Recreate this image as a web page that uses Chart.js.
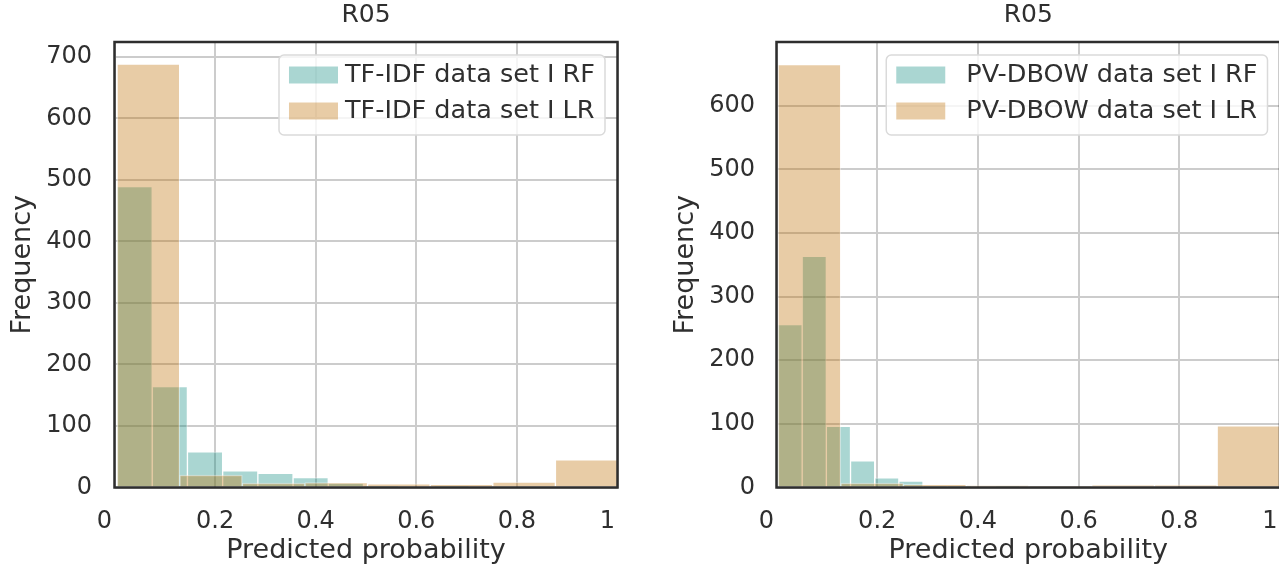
<!DOCTYPE html>
<html>
<head>
<meta charset="utf-8">
<script src="https://cdn.jsdelivr.net/npm/chart.js@4.4.1/dist/chart.umd.min.js"></script>
<style>
  html, body { margin: 0; padding: 0; background: #fff; overflow: hidden; }
  .box { position: absolute; top: 0; height: 570px; }
  #leftBox { left: 0; width: 640px; }
  #rightBox { left: 640px; width: 660px; }
</style>
</head>
<body>
<div class="box" id="leftBox"><canvas id="histTfidf"></canvas></div>
<div class="box" id="rightBox"><canvas id="histDbow"></canvas></div>
<script>
// bin centres (predicted probability) and counts
const tfidfRfBins = [0.040, 0.110, 0.180, 0.250, 0.320, 0.390, 0.460, 0.530, 0.600, 0.670];
const tfidfRfCounts = [489, 164, 58, 27, 23, 16, 7, 1, 0, 1];
const tfidfLrBins = [0.0673, 0.1918, 0.3163, 0.4408, 0.5653, 0.6898, 0.8143, 0.9388];
const tfidfLrCounts = [688, 20, 7, 8, 6, 5, 9, 45];

const dbowRfBins = [0.027, 0.075, 0.123, 0.171, 0.219, 0.267, 0.315, 0.363, 0.411, 0.459];
const dbowRfCounts = [256, 363, 96, 42, 15, 10, 2, 1, 0, 1];
const dbowLrBins = [0.0653, 0.1899, 0.3145, 0.4391, 0.5637, 0.6883, 0.8129, 0.9375];
const dbowLrCounts = [664, 7, 5, 3, 1, 4, 4, 97];

const xTickLabels = ['0', '0.2', '0.4', '0.6', '0.8', '1'];
const yTickLabelsTfidf = ['0', '100', '200', '300', '400', '500', '600', '700'];
const yTickLabelsDbow = ['0', '100', '200', '300', '400', '500', '600'];

const RF_COLOR = 'rgba(12,138,126,0.35)';
const LR_COLOR = 'rgba(189,109,1,0.35)';
const TEXT = '#2f2f2f';
const FONT = 'DejaVu Sans';

// end labels "0" and "1" sit a bit left of their grid line, like in the original
const shiftEndLabels = {
    id: 'shiftEndLabels',
    beforeDraw(chart) {
        const items = chart.scales.x.getLabelItems(chart.chartArea);
        [items[0], items[items.length - 1]].forEach(it => {
            if (it && !it.shifted) {
                it.options.translation[0] -= 10;
                it.shifted = true;
            }
        });
    }
};

// frame round the plot and a legend box inside the upper right corner
const frameLegend = {
    id: 'frameLegend',
    afterDatasetsDraw(chart, args, opts) {
        const ctx = chart.ctx;
        const a = chart.chartArea;
        ctx.save();
        ctx.strokeStyle = '#2e2e2e';
        ctx.lineWidth = 2.5;
        ctx.strokeRect(a.left, a.top, a.right - a.left, a.bottom - a.top);

        ctx.font = '25.5px "' + FONT + '"';
        const items = [chart.data.datasets[1], chart.data.datasets[0]];
        const textW = Math.max(...items.map(d => ctx.measureText(d.label).width));
        const w = 10 + 49 + opts.gap + textW + 10;
        const h = 80;
        const x = a.right - 12.5 - w;
        const y = a.top + 13;
        ctx.beginPath();
        if (ctx.roundRect) ctx.roundRect(x, y, w, h, 5); else ctx.rect(x, y, w, h);
        ctx.fillStyle = 'rgba(255,255,255,0.8)';
        ctx.fill();
        ctx.strokeStyle = '#dadada';
        ctx.lineWidth = 1.5;
        ctx.stroke();
        items.forEach((d, k) => {
            const cy = y + 20 + k * 36;
            ctx.fillStyle = d.backgroundColor;
            ctx.fillRect(x + 10, cy - 8.5, 49, 17);
            ctx.fillStyle = TEXT;
            ctx.textBaseline = 'middle';
            ctx.textAlign = 'left';
            ctx.fillText(d.label, x + 10 + 49 + opts.gap, cy);
        });
        ctx.restore();
    }
};

function makeHist(canvasId, cfg) {
    const ctx = document.getElementById(canvasId).getContext('2d');
    return new Chart(ctx, {
        type: 'bar',
        data: {
            datasets: [
                {
                    label: cfg.lrLabel,
                    data: cfg.lrBins.map((b, i) => ({x: b, y: cfg.lrCounts[i]})),
                    xAxisID: 'x2',
                    backgroundColor: LR_COLOR,
                    borderColor: 'rgba(255,255,255,0.4)',
                    borderWidth: 1,
                    barPercentage: 1,
                    categoryPercentage: 1,
                    grouped: false,
                    order: 0
                },
                {
                    label: cfg.rfLabel,
                    data: cfg.rfBins.map((b, i) => ({x: b, y: cfg.rfCounts[i]})),
                    xAxisID: 'x',
                    backgroundColor: RF_COLOR,
                    borderColor: 'rgba(255,255,255,0.4)',
                    borderWidth: 1,
                    barPercentage: 1,
                    categoryPercentage: 1,
                    grouped: false,
                    order: 1
                }
            ]
        },
        options: {
            responsive: true,
            maintainAspectRatio: false,
            animation: false,
            layout: {padding: {left: cfg.padLeft, right: cfg.padRight, top: 0, bottom: 0}},
            plugins: {
                legend: {display: false},
                tooltip: {enabled: false},
                title: {
                    display: true,
                    text: 'R05',
                    fullSize: false,
                    color: TEXT,
                    font: {family: FONT, size: 25, weight: 'normal'},
                    padding: {top: 0, bottom: 12}
                },
                frameLegend: {gap: cfg.legendGap}
            },
            scales: {
                x: {
                    type: 'linear',
                    min: 0,
                    max: 1,
                    offset: false,
                    grid: {color: '#cccccc', lineWidth: 2, drawTicks: false, offset: false},
                    border: {display: false},
                    ticks: {
                        stepSize: 0.2,
                        padding: 20,
                        color: TEXT,
                        font: {family: FONT, size: 24},
                        maxRotation: 0,
                        callback: (v, i) => xTickLabels[i]
                    },
                    title: {
                        display: true,
                        text: 'Predicted probability',
                        color: TEXT,
                        font: {family: FONT, size: 27},
                        padding: {top: 0, bottom: 3}
                    },
                    afterFit: axis => {
                        axis.height = 82.5;
                        axis.paddingLeft = 0;
                        axis.paddingRight = 0;
                    }
                },
                x2: {
                    type: 'linear',
                    position: 'top',
                    min: 0,
                    max: 1,
                    offset: false,
                    display: false,
                    grid: {offset: false},
                    ticks: {stepSize: 0.2}
                },
                y: {
                    min: 0,
                    max: cfg.yMax,
                    grid: {color: '#cccccc', lineWidth: 2, drawTicks: false},
                    border: {display: false},
                    ticks: {
                        stepSize: 100,
                        includeBounds: false,
                        padding: cfg.yTickPad,
                        color: TEXT,
                        font: {family: FONT, size: 24},
                        callback: (v, i) => cfg.yLabels[i]
                    },
                    title: {
                        display: true,
                        text: 'Frequency',
                        color: TEXT,
                        font: {family: FONT, size: 27},
                        padding: {top: cfg.yTitlePad, bottom: 0}
                    },
                    afterFit: axis => {
                        axis.width = cfg.yWidth;
                        axis.paddingTop = 0;
                        axis.paddingBottom = 0;
                    }
                }
            }
        },
        plugins: [shiftEndLabels, frameLegend]
    });
}

makeHist('histTfidf', {
    rfLabel: 'TF-IDF data set I RF',
    lrLabel: 'TF-IDF data set I LR',
    rfBins: tfidfRfBins, rfCounts: tfidfRfCounts,
    lrBins: tfidfLrBins, lrCounts: tfidfLrCounts,
    yLabels: yTickLabelsTfidf,
    yMax: 724,
    padLeft: 0, padRight: 22.5,
    yWidth: 114.5, yTickPad: 22.5, yTitlePad: 6.5,
    legendGap: 7
});

makeHist('histDbow', {
    rfLabel: 'PV-DBOW data set I RF',
    lrLabel: 'PV-DBOW data set I LR',
    rfBins: dbowRfBins, rfCounts: dbowRfCounts,
    lrBins: dbowLrBins, lrCounts: dbowLrCounts,
    yLabels: yTickLabelsDbow,
    yMax: 699.5,
    padLeft: 20, padRight: 20,
    yWidth: 116.5, yTickPad: 21.5, yTitlePad: 10,
    legendGap: 21
});
</script>
</body>
</html>
